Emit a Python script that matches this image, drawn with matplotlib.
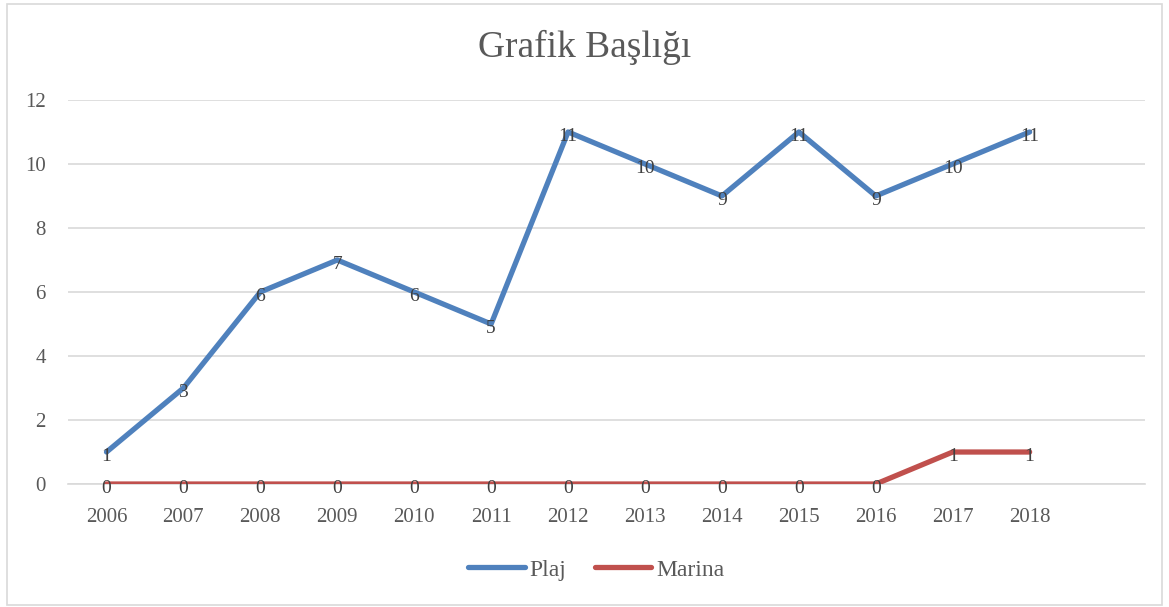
import matplotlib.pyplot as plt
from matplotlib.patches import Rectangle

years = ['2006', '2007', '2008', '2009', '2010', '2011', '2012',
         '2013', '2014', '2015', '2016', '2017', '2018']
plaj = [1, 3, 6, 7, 6, 5, 11, 10, 9, 11, 9, 10, 11]
marina = [0, 0, 0, 0, 0, 0, 0, 0, 0, 0, 0, 1, 1]

plt.rcParams['font.family'] = ['Liberation Serif', 'DejaVu Serif']
text_color = '#595959'

fig = plt.figure(figsize=(11.69, 6.07), dpi=100)
ax = fig.add_axes([0.0582, 0.2026, 0.9213, 0.6327])

x = list(range(len(years)))
ax.plot(x, plaj, color='#4F81BD', lw=3.8, solid_capstyle='round',
        solid_joinstyle='round', label='Plaj', zorder=3)
ax.plot(x, marina, color='#C0504D', lw=3.8, solid_capstyle='round',
        solid_joinstyle='round', label='Marina', zorder=3)

for series in (plaj, marina):
    for xi, v in zip(x, series):
        ax.annotate(str(v), (xi, v), xytext=(0, -3), textcoords='offset points',
                    ha='center', va='center', fontsize=14,
                    color='#404040', zorder=4)

ax.set_xlim(-0.5, 13.5)
ax.set_ylim(0, 12)
ax.set_yticks(range(0, 13, 2))
ax.set_xticks(x)
ax.set_xticklabels(years)
ax.grid(axis='y', color='#D9D9D9', lw=1.2)
ax.set_axisbelow(True)
for s in ['top', 'right', 'left']:
    ax.spines[s].set_visible(False)
ax.spines['bottom'].set_color('#D9D9D9')
ax.spines['bottom'].set_linewidth(1.2)
ax.tick_params(length=0, labelsize=15, colors=text_color)
ax.tick_params(axis='x', pad=17)
ax.tick_params(axis='y', pad=16)

fig.suptitle('Grafik Başlığı', fontsize=27, color=text_color, y=0.95)
fig.legend(loc='center', bbox_to_anchor=(0.51, 0.061), ncol=2,
           frameon=False, fontsize=17, handlelength=2.4, columnspacing=1.2,
           handletextpad=0.2, labelcolor=text_color)

fig.patches.append(Rectangle((0.006, 0.004), 0.988, 0.99, transform=fig.transFigure,
                             fill=False, edgecolor='#D9D9D9', lw=1.2))

fig.savefig('out.png', dpi=100)
